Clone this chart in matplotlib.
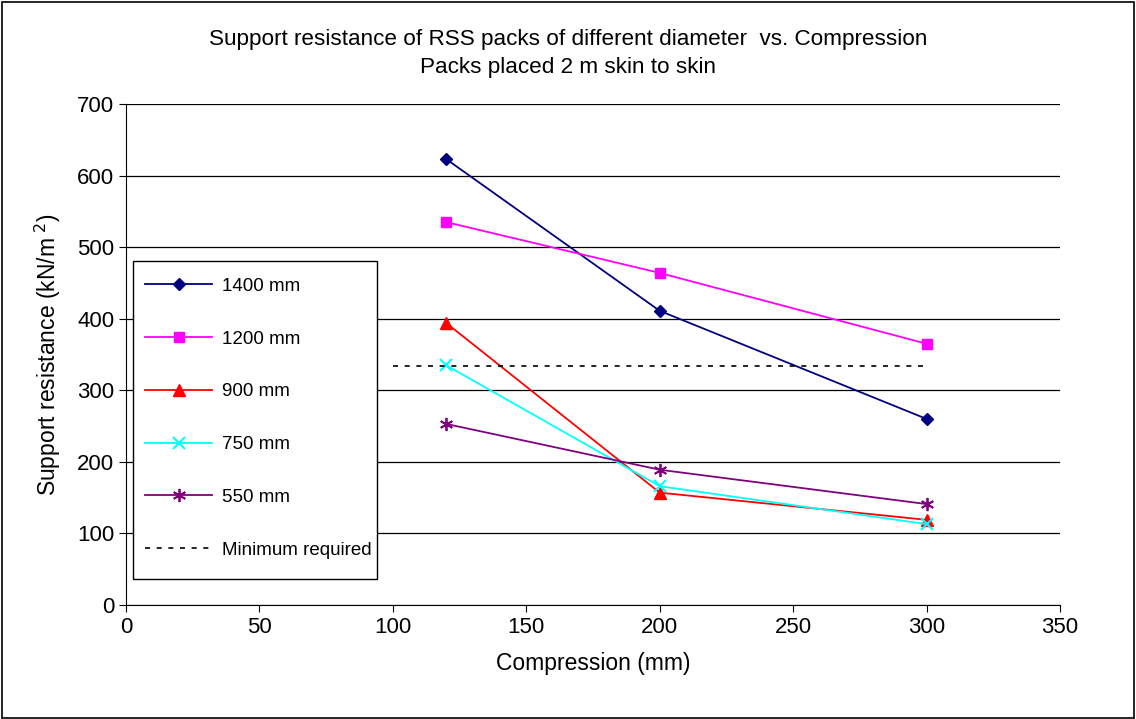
import matplotlib
matplotlib.use("Agg")
import matplotlib.pyplot as plt
from matplotlib.patches import Rectangle

plt.rcParams['font.family'] = ['Liberation Sans', 'DejaVu Sans']

compression = [120, 200, 300]
series_labels = ["1400 mm", "1200 mm", "900 mm", "750 mm", "550 mm"]
resistance_1400 = [623, 411, 260]
resistance_1200 = [535, 464, 365]
resistance_900 = [394, 157, 119]
resistance_750 = [335, 166, 113]
resistance_550 = [253, 189, 141]
minimum_x = [100, 300]
minimum_required = [334, 334]

W, H = 1136, 719
fig = plt.figure(figsize=(W / 100, H / 100), dpi=100)
ax = fig.add_axes([126 / W, 1 - 605 / H, (1060 - 126) / W, (605 - 104) / H])

# outer frame around the whole chart
fig.patches.append(Rectangle((0.002, 0.002), 0.996, 0.995, transform=fig.transFigure,
                             fill=False, edgecolor='black', linewidth=1.2))

styles = [
    dict(color='#000080', marker='D', markersize=6.5),
    dict(color='#FF00FF', marker='s', markersize=7.5),
    dict(color='#FF0000', marker='^', markersize=8.5),
    dict(color='#00FFFF', marker='x', markersize=8.5, markeredgewidth=1.5),
    dict(color='#800080', marker=(6, 2, 0), markersize=9.5, markeredgewidth=1.3),
]
data = [resistance_1400, resistance_1200, resistance_900, resistance_750, resistance_550]
for lab, vals, st in zip(series_labels, data, styles):
    ax.plot(compression, vals, linewidth=1.3, label=lab, **st)

ax.plot(minimum_x, minimum_required, color='black', linestyle=(0, (3, 4)),
        linewidth=1.2, label="Minimum required")

ax.set_xlim(0, 350)
ax.set_ylim(0, 700)
ax.set_xticks(range(0, 351, 50))
ax.set_yticks(range(0, 701, 100))
ax.yaxis.grid(True, color='black', linewidth=0.9)
ax.set_axisbelow(True)
for s in ['top', 'right']:
    ax.spines[s].set_visible(False)
ax.tick_params(axis='both', direction='out', length=5, labelsize=16, colors='black')

ax.set_xlabel("Compression (mm)", fontsize=16.5, labelpad=10)
ax.set_ylabel("Support resistance (kN/m$^{\\ 2}$)", fontsize=16.5, labelpad=10)

fig.text(0.5, 1 - 39 / H, "Support resistance of RSS packs of different diameter  vs. Compression",
         ha='center', va='center', fontsize=16.2)
fig.text(0.5, 1 - 68 / H, "Packs placed 2 m skin to skin",
         ha='center', va='center', fontsize=16.2)

# legend box, drawn as its own white rectangle in pixel-derived axes coordinates
def ax_xy(px, py):
    return (px - 126) / 934, (605 - py) / 501

x0, y1 = ax_xy(133, 261)
x1, y0 = ax_xy(377, 579)
ax.add_patch(Rectangle((x0, y0), x1 - x0, y1 - y0, transform=ax.transAxes,
                       facecolor='white', edgecolor='black', linewidth=1.0,
                       zorder=4.5, clip_on=False))

leg = ax.legend(loc='upper left', bbox_to_anchor=ax_xy(128, 261),
                frameon=False, fontsize=13.5, labelspacing=1.9,
                handlelength=3.6, handletextpad=0.5, borderpad=0.9,
                borderaxespad=0)
leg.set_zorder(5)

fig.savefig("out.png", dpi=100, facecolor='white')
